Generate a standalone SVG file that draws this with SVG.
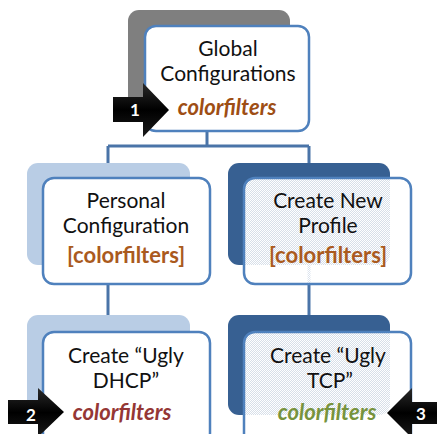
<svg xmlns="http://www.w3.org/2000/svg" width="437" height="434" viewBox="0 0 437 434">
  <style>
    .front { fill: #ffffff; stroke: #4f81bd; stroke-width: 2.5; }
    .glass { fill: url(#dither); stroke: #4f81bd; stroke-width: 2.5; }
    .back-gray { fill: #7f7f7f; }
    .back-light { fill: #b9cde5; }
    .back-dark { fill: #376092; }
    .wire { fill: none; stroke: #4a74a8; stroke-width: 3; }
    .lbl { font-family: Lato, "Open Sans", "Liberation Sans", sans-serif; font-size: 21px; fill: #111111; text-anchor: middle; }
    .tag { font-family: Lato, "Open Sans", "Liberation Sans", sans-serif; font-size: 22px; font-weight: bold; text-anchor: middle; }
    .ital { font-style: italic; }
    .badge { fill: url(#arrowShade); }
    .num { font-family: Lato, "Liberation Sans", sans-serif; font-size: 17px; font-weight: bold; fill: #ffffff; text-anchor: middle; }
  </style>
  <defs>
    <!-- dithered translucent white used by the right-hand boxes -->
    <pattern id="dither" patternUnits="userSpaceOnUse" x="0" y="0" width="2" height="2">
      <rect width="2" height="2" fill="#ffffff" fill-opacity="0.8"/>
      <rect x="0" y="0" width="1" height="1" fill="#ffffff"/>
      <rect x="1" y="1" width="1" height="1" fill="#ffffff"/>
    </pattern>
    <linearGradient id="arrowShade" x1="0" y1="0" x2="0" y2="1">
      <stop offset="0" stop-color="#2a2a2a"/>
      <stop offset="0.5" stop-color="#000000"/>
      <stop offset="1" stop-color="#1a1a1a"/>
    </linearGradient>
  </defs>

  <rect width="437" height="434" fill="#ffffff"/>

  <!-- tree connectors -->
  <g id="connectors">
    <path class="wire" d="M207,130 V146 M108,146 H309 M108,146 V164 M309,146 V164"/>
    <path class="wire" d="M108,284 V316"/>
    <path class="wire" d="M309,262 V316"/>
  </g>

  <g id="global">
    <rect class="back-gray" x="128" y="10" width="162" height="105" rx="11"/>
    <rect class="front" x="145" y="26" width="164" height="105" rx="11"/>
    <text class="lbl" x="228" y="56">Global</text>
    <text class="lbl" x="228" y="81">Configurations</text>
    <text class="tag ital" x="227" y="115" fill="#9e4e14">colorfilters</text>
  </g>

  <g id="personal">
    <rect class="back-light" x="27" y="163" width="163" height="102" rx="11"/>
    <rect class="front" x="43" y="178" width="167" height="106" rx="11"/>
    <text class="lbl" x="126" y="208">Personal</text>
    <text class="lbl" x="126" y="233">Configuration</text>
    <text class="tag" x="126" y="263" fill="#aa5a1e">[colorfilters]</text>
  </g>

  <g id="new-profile">
    <rect class="back-dark" x="228" y="163" width="162" height="102" rx="11"/>
    <rect class="glass" x="244" y="178" width="167" height="106" rx="11"/>
    <text class="lbl" x="328" y="208">Create New</text>
    <text class="lbl" x="328" y="233">Profile</text>
    <text class="tag" x="328" y="263" fill="#aa5a1e">[colorfilters]</text>
  </g>

  <g id="ugly-dhcp">
    <rect class="back-light" x="27" y="315" width="163" height="100" rx="11"/>
    <rect class="front" x="43" y="332" width="167" height="112" rx="11"/>
    <text class="lbl" x="126" y="363">Create “Ugly</text>
    <text class="lbl" x="126" y="388">DHCP”</text>
    <text class="tag ital" x="122" y="420" fill="#953735">colorfilters</text>
  </g>

  <g id="ugly-tcp">
    <rect class="back-dark" x="228" y="315" width="162" height="100" rx="11"/>
    <rect class="glass" x="244" y="332" width="167" height="112" rx="11"/>
    <text class="lbl" x="328" y="363">Create “Ugly</text>
    <text class="lbl" x="330" y="388">TCP”</text>
    <text class="tag ital" x="327" y="420" fill="#77933c">colorfilters</text>
  </g>

  <!-- numbered pointer badges -->
  <g id="badge-1">
    <path class="badge" d="M113,97 H143 V83 L169,110 L143,137 V122 H113 Z"/>
    <text class="num" x="135" y="116">1</text>
  </g>
  <g id="badge-2">
    <path class="badge" d="M8,400 H38 V388 L64,412 L38,437 V424 H8 Z"/>
    <text class="num" x="31" y="421">2</text>
  </g>
  <g id="badge-3">
    <path class="badge" d="M440,402 H412 V388 L387,413 L412,438 V424 H440 Z"/>
    <text class="num" x="421" y="420">3</text>
  </g>
</svg>
